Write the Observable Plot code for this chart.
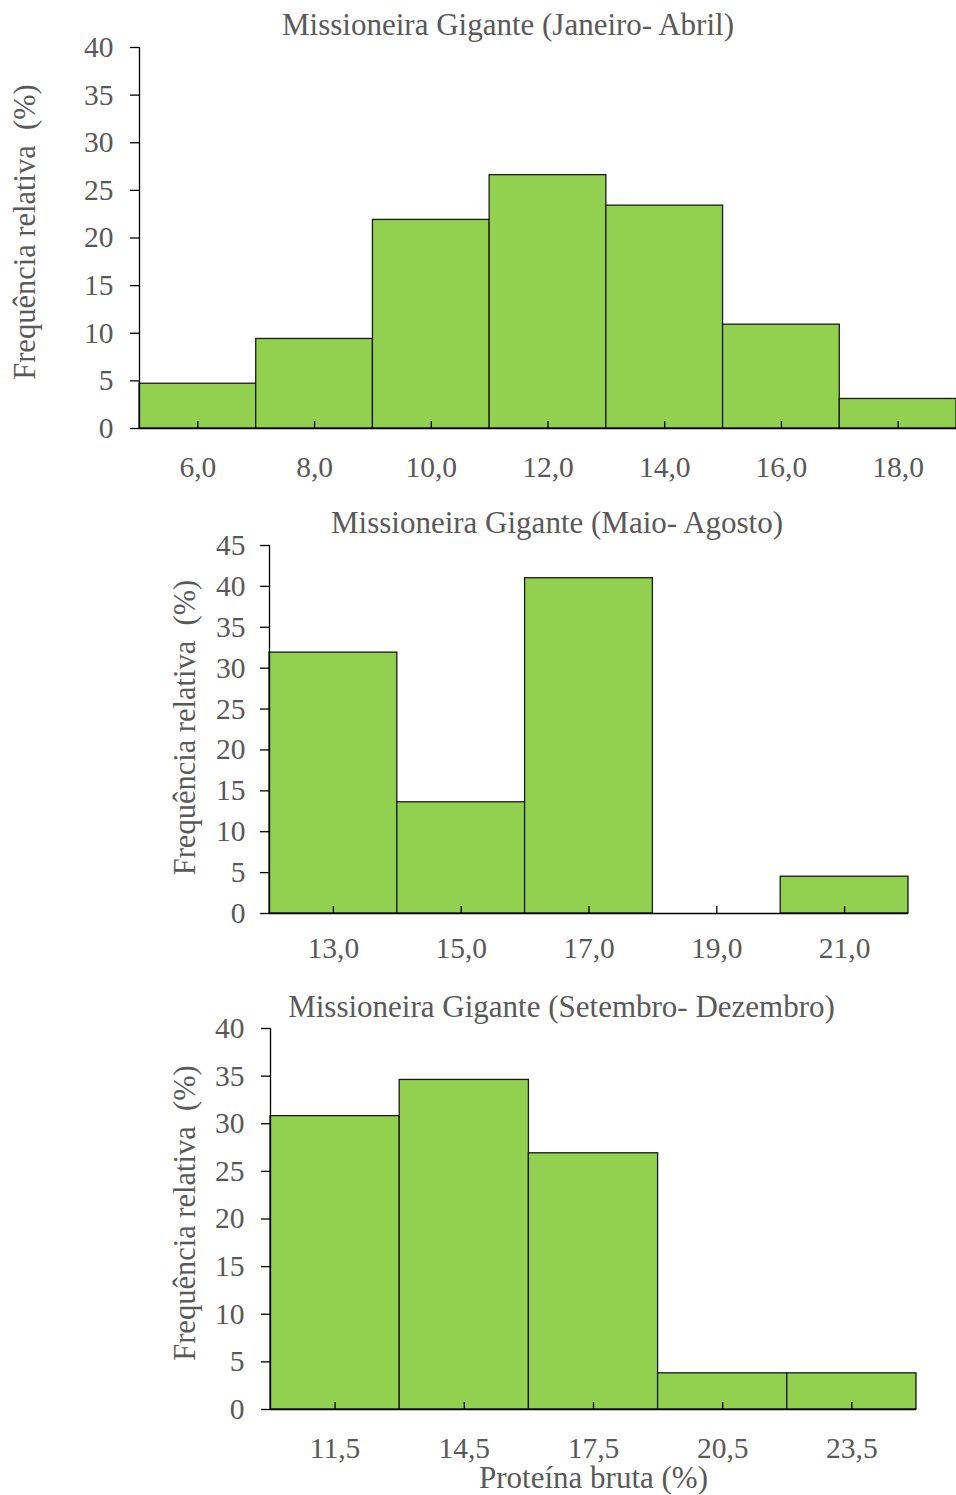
<!DOCTYPE html>
<html><head><meta charset="utf-8">
<script src="https://cdn.jsdelivr.net/npm/d3@7"></script>
<script src="https://cdn.jsdelivr.net/npm/@observablehq/plot@0.6"></script>
<style>
body{margin:0;background:#fff;width:956px;height:1495px;overflow:hidden;position:relative;}
.chart{position:absolute;left:0;}
.chart svg{overflow:visible;}
</style></head><body>
<div id="c1" class="chart" style="top:0px"></div>
<div id="c2" class="chart" style="top:490px"></div>
<div id="c3" class="chart" style="top:970px"></div>
<script>
// ---- data ----
const title1 = "Missioneira Gigante (Janeiro- Abril)";
const title2 = "Missioneira Gigante (Maio- Agosto)";
const title3 = "Missioneira Gigante (Setembro- Dezembro)";
const yLabel = "Frequência relativa\u00a0 (%)";
const xLabel = "Proteína bruta (%)";

const janAbrCenters = [6, 8, 10, 12, 14, 16, 18];
const janAbrLabels = ["6,0", "8,0", "10,0", "12,0", "14,0", "16,0", "18,0"];
const janAbrValues = [4.7, 9.4, 21.9, 26.6, 23.4, 10.9, 3.1];
const janAbrBinWidth = 2;
const janAbrYTicks = [0, 5, 10, 15, 20, 25, 30, 35, 40];

const maiAgoCenters = [13, 15, 17, 19, 21];
const maiAgoLabels = ["13,0", "15,0", "17,0", "19,0", "21,0"];
const maiAgoValues = [31.9, 13.6, 41.0, 0, 4.5];
const maiAgoBinWidth = 2;
const maiAgoYTicks = [0, 5, 10, 15, 20, 25, 30, 35, 40, 45];

const setDezCenters = [11.5, 14.5, 17.5, 20.5, 23.5];
const setDezLabels = ["11,5", "14,5", "17,5", "20,5", "23,5"];
const setDezValues = [30.8, 34.6, 26.9, 3.8, 3.8];
const setDezBinWidth = 3;
const setDezYTicks = [0, 5, 10, 15, 20, 25, 30, 35, 40];

// ---- drawing ----
const gray = "#595959";
const green = "#92D050";
const FONT = "'Liberation Serif','Times New Roman',serif";

function hist(el, centers, labels, values, bw, yTicks, title, L, withXLabel) {
  const data = centers.map((c, i) => ({c, v: values[i]}));
  const xMin = centers[0] - bw / 2;
  const xMax = centers[centers.length - 1] + bw / 2;
  const yMax = yTicks[yTicks.length - 1];
  const marks = [
    Plot.rectY(data, {x1: d => d.c - bw / 2, x2: d => d.c + bw / 2, y: "v", fill: green, stroke: "#1a1a1a", strokeWidth: 1.3}),
    Plot.ruleY([0], {stroke: "#000", strokeWidth: 1.3}),
    Plot.ruleX([xMin], {y1: 0, y2: yMax, stroke: "#000", strokeWidth: 1.3}),
    Plot.axisY(yTicks, {tickSize: 9, tickPadding: L.ypad, fontSize: 29.5, fill: gray, stroke: "#000", strokeWidth: 1.3, label: null, tickFormat: d => String(d)}),
    Plot.axisX(centers, {tickSize: -7, tickFormat: () => "", stroke: "#000", strokeWidth: 1.3, label: null}),
    Plot.axisX(centers, {tickSize: 0, tickPadding: L.xpad, fontSize: 29.5, fill: gray, label: null, tickFormat: d => labels[centers.indexOf(d)]}),
    Plot.text([title], {text: d => d, frameAnchor: "top", textAnchor: "middle", dx: L.tdx, dy: L.tdy, fontSize: 31, fill: gray, lineAnchor: "middle"}),
    Plot.text([yLabel], {text: d => d, frameAnchor: "left", textAnchor: "middle", rotate: -90, dx: L.ydx, dy: L.ydy, fontSize: 30.5, fill: gray, lineAnchor: "middle"})
  ];
  if (withXLabel) {
    marks.push(Plot.text([xLabel], {text: d => d, frameAnchor: "bottom", textAnchor: "middle", dx: L.xldx, dy: L.xldy, fontSize: 31, fill: gray, lineAnchor: "middle"}));
  }
  const svg = Plot.plot({
    width: 956, height: L.height,
    marginTop: L.mt, marginBottom: L.mb, marginLeft: L.ml, marginRight: L.mr,
    style: {fontFamily: FONT, color: gray, background: "transparent", overflow: "visible"},
    x: {domain: [xMin, xMax]},
    y: {domain: [0, yMax]},
    marks
  });
  document.getElementById(el).appendChild(svg);
}

hist("c1", janAbrCenters, janAbrLabels, janAbrValues, janAbrBinWidth, janAbrYTicks, title1,
  {height: 490, mt: 47, mb: 62, ml: 139, mr: 0, ypad: 17, xpad: 28, tdx: -40, tdy: -22, ydx: -114, ydy: -6}, false);
hist("c2", maiAgoCenters, maiAgoLabels, maiAgoValues, maiAgoBinWidth, maiAgoYTicks, title2,
  {height: 480, mt: 55, mb: 57, ml: 269, mr: 48, ypad: 15, xpad: 24, tdx: -32, tdy: -22, ydx: -84, ydy: -2}, false);
hist("c3", setDezCenters, setDezLabels, setDezValues, setDezBinWidth, setDezYTicks, title3,
  {height: 525, mt: 58, mb: 86, ml: 270, mr: 40, ypad: 17, xpad: 28, tdx: -32, tdy: -21, ydx: -85, ydy: -6, xldx: 0, xldy: 69}, true);
</script>
</body></html>
